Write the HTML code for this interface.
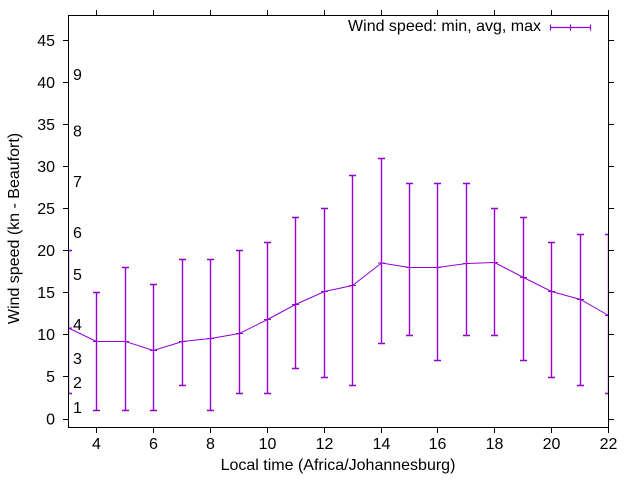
<!DOCTYPE html>
<html>
<head>
<meta charset="utf-8">
<style>
html,body{margin:0;padding:0;background:#fff;}
svg{display:block;}
text{font-family:"Liberation Sans",Arial,sans-serif;font-size:16px;fill:#000;}
</style>
</head>
<body>
<svg width="640" height="480" viewBox="0 0 640 480" xmlns="http://www.w3.org/2000/svg">
<rect x="0" y="0" width="640" height="480" fill="#fff"/>
<defs>
<clipPath id="pc"><rect x="68" y="15" width="541" height="413"/></clipPath>
</defs>

<!-- y tick labels -->
<g text-anchor="end">
<text x="55" y="424.5">0</text>
<text x="55" y="382">5</text>
<text x="55" y="340">10</text>
<text x="55" y="298">15</text>
<text x="55" y="256">20</text>
<text x="55" y="214">25</text>
<text x="55" y="172">30</text>
<text x="55" y="130">35</text>
<text x="55" y="88">40</text>
<text x="55" y="46">45</text>
</g>

<!-- x tick labels -->
<g text-anchor="middle">
<text x="96.5" y="449">4</text>
<text x="153.5" y="449">6</text>
<text x="210.5" y="449">8</text>
<text x="267.5" y="449">10</text>
<text x="324.5" y="449">12</text>
<text x="381.5" y="449">14</text>
<text x="437.5" y="449">16</text>
<text x="494.5" y="449">18</text>
<text x="551.5" y="449">20</text>
<text x="608.5" y="449">22</text>
</g>

<!-- axis labels -->
<text x="338" y="470" text-anchor="middle">Local time (Africa/Johannesburg)</text>
<text transform="translate(19,228.5) rotate(-90)" text-anchor="middle">Wind speed (kn - Beaufort)</text>

<!-- Beaufort labels -->
<g>
<text x="73" y="413">1</text>
<text x="73" y="388">2</text>
<text x="73" y="364">3</text>
<text x="73" y="330">4</text>
<text x="73" y="280">5</text>
<text x="73" y="238">6</text>
<text x="73" y="187">7</text>
<text x="73" y="136.7">8</text>
<text x="73" y="80">9</text>
</g>

<!-- series -->
<g clip-path="url(#pc)" stroke="#9400D3" stroke-width="1" fill="none">
<polyline points="68.5,328 96.5,341.5 125.5,341.5 153.5,350.5 182.5,341.5 210.5,338.5 239.5,333.5 267.5,319.5 295.5,304.5 324.5,291.5 352.5,285.5 381.5,263 409.5,267.5 437.5,267.5 466.5,263.5 494.5,262.5 523.5,277.5 551.5,291.5 580.5,299.5 608.5,315.5"/>
<path stroke-width="1.4" d="
M68.5,393.5V250.5M65,393.5h7M65,250.5h7
M96.5,410.5V292.5M93,410.5h7M93,292.5h7
M125.5,410.5V267.5M122,410.5h7M122,267.5h7
M153.5,410.5V284.5M150,410.5h7M150,284.5h7
M182.5,385.5V259.5M179,385.5h7M179,259.5h7
M210.5,410.5V259.5M207,410.5h7M207,259.5h7
M239.5,393.5V250.5M236,393.5h7M236,250.5h7
M267.5,393.5V242.5M264,393.5h7M264,242.5h7
M295.5,368.5V217.5M292,368.5h7M292,217.5h7
M324.5,377.5V208.5M321,377.5h7M321,208.5h7
M352.5,385.5V175.5M349,385.5h7M349,175.5h7
M381.5,343.5V158.5M378,343.5h7M378,158.5h7
M409.5,335.5V183.5M406,335.5h7M406,183.5h7
M437.5,360.5V183.5M434,360.5h7M434,183.5h7
M466.5,335.5V183.5M463,335.5h7M463,183.5h7
M494.5,335.5V208.5M491,335.5h7M491,208.5h7
M523.5,360.5V217.5M520,360.5h7M520,217.5h7
M551.5,377.5V242.5M548,377.5h7M548,242.5h7
M580.5,385.5V234.5M577,385.5h7M577,234.5h7
M608.5,393.5V234.5M605,393.5h7M605,234.5h7
"/>
<path d="
M65,328h7M68.5,325v6
M93,341.5h7M96.5,338.5v6
M122,341.5h7M125.5,338.5v6
M150,350.5h7M153.5,347.5v6
M179,341.5h7M182.5,338.5v6
M207,338.5h7M210.5,335.5v6
M236,333.5h7M239.5,330.5v6
M264,319.5h7M267.5,316.5v6
M292,304.5h7M295.5,301.5v6
M321,291.5h7M324.5,288.5v6
M349,285.5h7M352.5,282.5v6
M378,263h7M381.5,260v6
M406,267.5h7M409.5,264.5v6
M434,267.5h7M437.5,264.5v6
M463,263.5h7M466.5,260.5v6
M491,262.5h7M494.5,259.5v6
M520,277.5h7M523.5,274.5v6
M548,291.5h7M551.5,288.5v6
M577,299.5h7M580.5,296.5v6
M605,315.5h7M608.5,312.5v6
"/>
</g>

<!-- border and ticks -->
<g stroke="#000" stroke-width="1" fill="none">
<rect x="68.5" y="15.5" width="540" height="412"/>
<path d="
M63,419.5h5M63,376.5h5M63,334.5h5M63,292.5h5M63,250.5h5M63,208.5h5M63,166.5h5M63,124.5h5M63,82.5h5M63,40.5h5
M609,419.5h5M609,376.5h5M609,334.5h5M609,292.5h5M609,250.5h5M609,208.5h5M609,166.5h5M609,124.5h5M609,82.5h5M609,40.5h5
M96.5,428v5M153.5,428v5M210.5,428v5M267.5,428v5M324.5,428v5M381.5,428v5M437.5,428v5M494.5,428v5M551.5,428v5M608.5,428v5
M96.5,10v5M153.5,10v5M210.5,10v5M267.5,10v5M324.5,10v5M381.5,10v5M437.5,10v5M494.5,10v5M551.5,10v5M608.5,10v5
"/>
</g>

<!-- legend -->
<text x="541" y="31" text-anchor="end">Wind speed: min, avg, max</text>
<g stroke="#9400D3" stroke-width="1.2" fill="none">
<path d="M550.5,27.5H590.5M550.5,24.5v6M590.5,24.5v6M570.5,24.5v6"/>
</g>
</svg>
</body>
</html>
